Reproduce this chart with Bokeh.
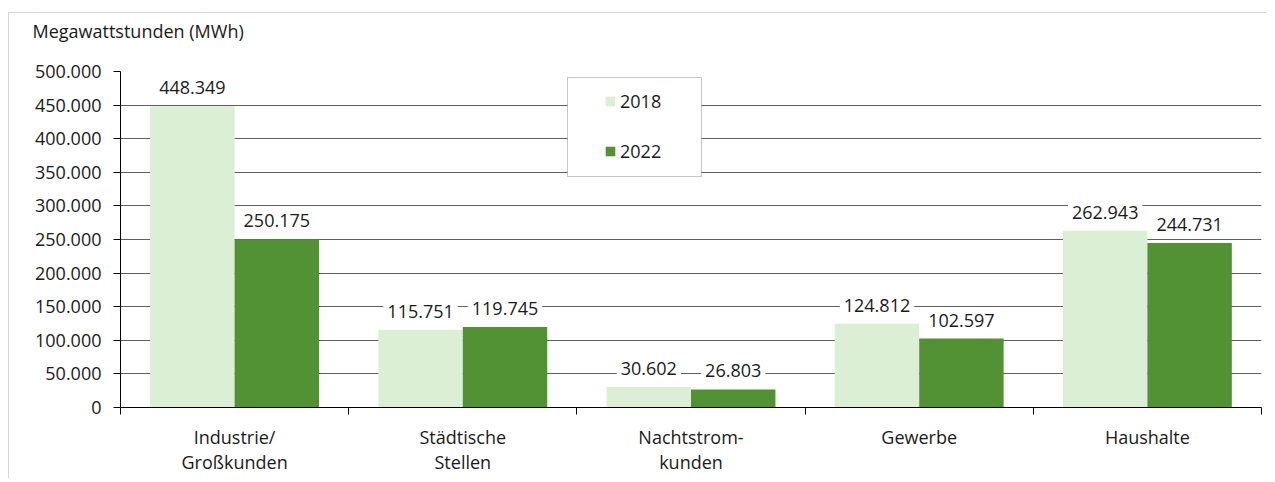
from bokeh.plotting import figure
from bokeh.models import (Range1d, LinearAxis, FixedTicker, Title,
                          ColumnDataSource, Legend, LegendItem, BoxAnnotation)
from bokeh.core.properties import value
from bokeh.embed import file_html
from bokeh.resources import INLINE

# ---- data ----
categories = ["Industrie/\nGroßkunden", "Städtische\nStellen", "Nachtstrom-\nkunden", "Gewerbe", "Haushalte"]
values_2018 = [448349, 115751, 30602, 124812, 262943]
values_2022 = [250175, 119745, 26803, 102597, 244731]
series_names = ["2018", "2022"]
y_ticks = list(range(0, 500001, 50000))
y_title = "Megawattstunden (MWh)"

FONT = "Open Sans"
TXT = "#1a1a1a"
C2018 = "#DAEFD3"
C2022 = "#539234"

def fmt(v):
    return f"{v:,}".replace(",", ".")

n = len(categories)
off = 0.185
bw = 0.37
centers = [i + 0.5 for i in range(n)]

src = ColumnDataSource(dict(
    xc=centers,
    x18=[c - off for c in centers],
    x22=[c + off for c in centers],
    y2018=values_2018,
    y2022=values_2022,
    l2018=[fmt(v) for v in values_2018],
    l2022=[fmt(v) for v in values_2022],
))

p = figure(x_range=Range1d(0, n),
           y_range=Range1d(0, 500000),
           width=1258, height=466,
           output_backend="svg", toolbar_location=None,
           x_axis_location=None,
           min_border_left=111, min_border_right=6,
           min_border_top=58, min_border_bottom=72)
p.styles = {"border-top": "1px solid #d6d6d6", "border-left": "1px solid #d6d6d6",
            "margin-top": "12px", "margin-left": "8px"}
p.outline_line_color = None
p.background_fill_color = "white"
p.border_fill_color = "white"

# unit title (top-left, horizontal); the blank second line spaces it from the frame
p.title = Title(text=y_title + "\n ", align="left", offset=-88, standoff=0,
                text_font=FONT, text_font_size="18px", text_font_style="normal",
                text_line_height=1.17, text_color=TXT)

# y axis
ya = p.yaxis[0]
ya.ticker = FixedTicker(ticks=y_ticks)
ya.major_label_overrides = {t: fmt(t) for t in y_ticks}
ya.major_label_text_font = FONT
ya.major_label_text_font_size = "18px"
ya.major_label_text_color = TXT
ya.major_tick_out = 7
ya.major_tick_in = 0
ya.minor_tick_line_color = None
ya.axis_line_color = "black"
ya.major_tick_line_color = "black"
ya.major_label_standoff = 12

p.ygrid.grid_line_color = "#606060"
p.ygrid.grid_line_width = 1
p.ygrid.ticker = FixedTicker(ticks=y_ticks)
p.xgrid.visible = False

# boundary tick axis
ta = LinearAxis(ticker=FixedTicker(ticks=list(range(n + 1))))
ta.major_label_overrides = {i: "" for i in range(n + 1)}
ta.major_label_text_font_size = "0px"
ta.major_label_standoff = 0
ta.major_tick_out = 7
ta.major_tick_in = 0
ta.minor_tick_line_color = None
ta.axis_line_color = "black"
ta.major_tick_line_color = "black"
p.add_layout(ta, "below")

# category label axis
ca = LinearAxis(ticker=FixedTicker(ticks=centers))
ca.major_label_overrides = {c: lab for c, lab in zip(centers, categories)}
ca.axis_line_color = None
ca.major_tick_line_color = None
ca.minor_tick_line_color = None
ca.major_tick_out = 0
ca.major_tick_in = 0
ca.major_label_text_font = FONT
ca.major_label_text_font_size = "18px"
ca.major_label_text_color = TXT
ca.major_label_text_line_height = 1.06
ca.major_label_standoff = 10
p.add_layout(ca, "below")

# bars
r18 = p.vbar(x="x18", top="y2018", width=bw, source=src, fill_color=C2018, line_color=None)
r22 = p.vbar(x="x22", top="y2022", width=bw, source=src, fill_color=C2022, line_color=None)

# value labels
for xcol, col, lab in (("x18", "y2018", "l2018"), ("x22", "y2022", "l2022")):
    p.text(x=xcol, y=col, text=lab,
           text_align="center", text_baseline="bottom", y_offset=-8,
           text_font=value(FONT), text_font_size="18px", text_color=TXT,
           background_fill_color="white", padding=4, source=src)

# legend box + legend
box = BoxAnnotation(left=1.959, right=2.546, top=491071, bottom=343750,
                    fill_color="white", fill_alpha=1.0,
                    line_color="#404040", line_width=1)
p.add_layout(box)

legend = Legend(items=[LegendItem(label=series_names[0], renderers=[r18]),
                       LegendItem(label=series_names[1], renderers=[r22])],
                location=(484, 244), orientation="vertical",
                border_line_color=None, background_fill_alpha=0,
                padding=0, margin=0, spacing=26,
                glyph_width=12, glyph_height=12, label_height=24,
                label_standoff=4,
                label_text_font=FONT, label_text_font_size="18px",
                label_text_color=TXT)
p.add_layout(legend)

open("out.html", "w").write(file_html(p, INLINE))
